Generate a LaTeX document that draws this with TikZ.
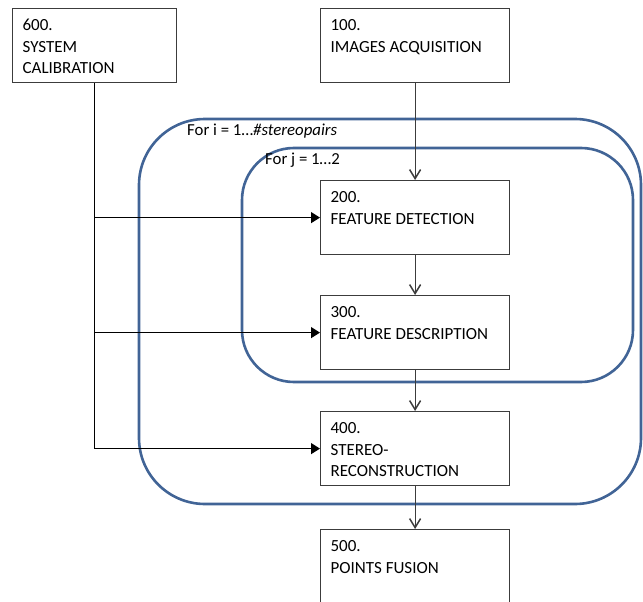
\documentclass[tikz,border=0pt]{standalone}
\usepackage{fontspec}
\setmainfont{Carlito}
\usetikzlibrary{positioning, calc, arrows.meta}

\definecolor{loopblue}{RGB}{65,100,150}
\definecolor{boxgray}{RGB}{60,60,60}

% box contents: lines pinned to the top of the box
\newcommand{\stagelines}[2]{\parbox[t][60pt][t]{#1}{\strut #2}}

\begin{document}
\begin{tikzpicture}[x=1pt, y=-1pt,
    stage/.style={draw=boxgray, line width=1.2pt, fill=white, anchor=north west,
        inner xsep=10pt, inner ysep=7pt, font=\fontsize{17pt}{21.5pt}\selectfont},
    loopframe/.style={draw=loopblue, line width=2.6pt},
    looplabel/.style={anchor=west, inner sep=0pt, font=\fontsize{16.8pt}{19pt}\selectfont},
    flow/.style={draw=boxgray, line width=1.2pt, -{Straight Barb[length=9pt,width=11pt,line width=1.5pt]}},
    feed/.style={draw=black, line width=1.2pt, -{Triangle[length=9pt,width=11pt]}}]
    \useasboundingbox (0,0) rectangle (643,602);

    % Loops
    \draw[loopframe, rounded corners=66pt] (139,119) rectangle (641,504);
    \draw[loopframe, rounded corners=52pt] (242,148) rectangle (633,382);
    \node[looplabel] (ilabel) at (187,131.5) {For i = 1…\textit{\#stereopairs}};
    \node[looplabel] (jlabel) at (265,160.5) {For j = 1…2};

    % Stages
    \node[stage] (cal) at (12,8) {\stagelines{144pt}{600.\\SYSTEM\\CALIBRATION}};
    \node[stage] (acq) at (320,8) {\stagelines{169pt}{100.\\IMAGES ACQUISITION}};
    \node[stage] (det) at (320,180) {\stagelines{169pt}{200.\\FEATURE DETECTION}};
    \node[stage] (des) at (320,295) {\stagelines{169pt}{300.\\FEATURE DESCRIPTION}};
    \node[stage] (rec) at (320,411) {\stagelines{169pt}{400.\\STEREO-\\RECONSTRUCTION}};
    \node[stage] (fus) at (320,529) {\stagelines{169pt}{500.\\POINTS FUSION}};

    % Main chain
    \draw[flow] (acq) -- (det);
    \draw[flow] (det) -- (des);
    \draw[flow] (des) -- (rec);
    \draw[flow] (rec) -- (fus);

    % Calibration feeds
    \draw[feed] (cal.south) |- (rec.west);
    \draw[feed] (cal.south |- det.west) -- (det.west);
    \draw[feed] (cal.south |- des.west) -- (des.west);
\end{tikzpicture}
\end{document}
